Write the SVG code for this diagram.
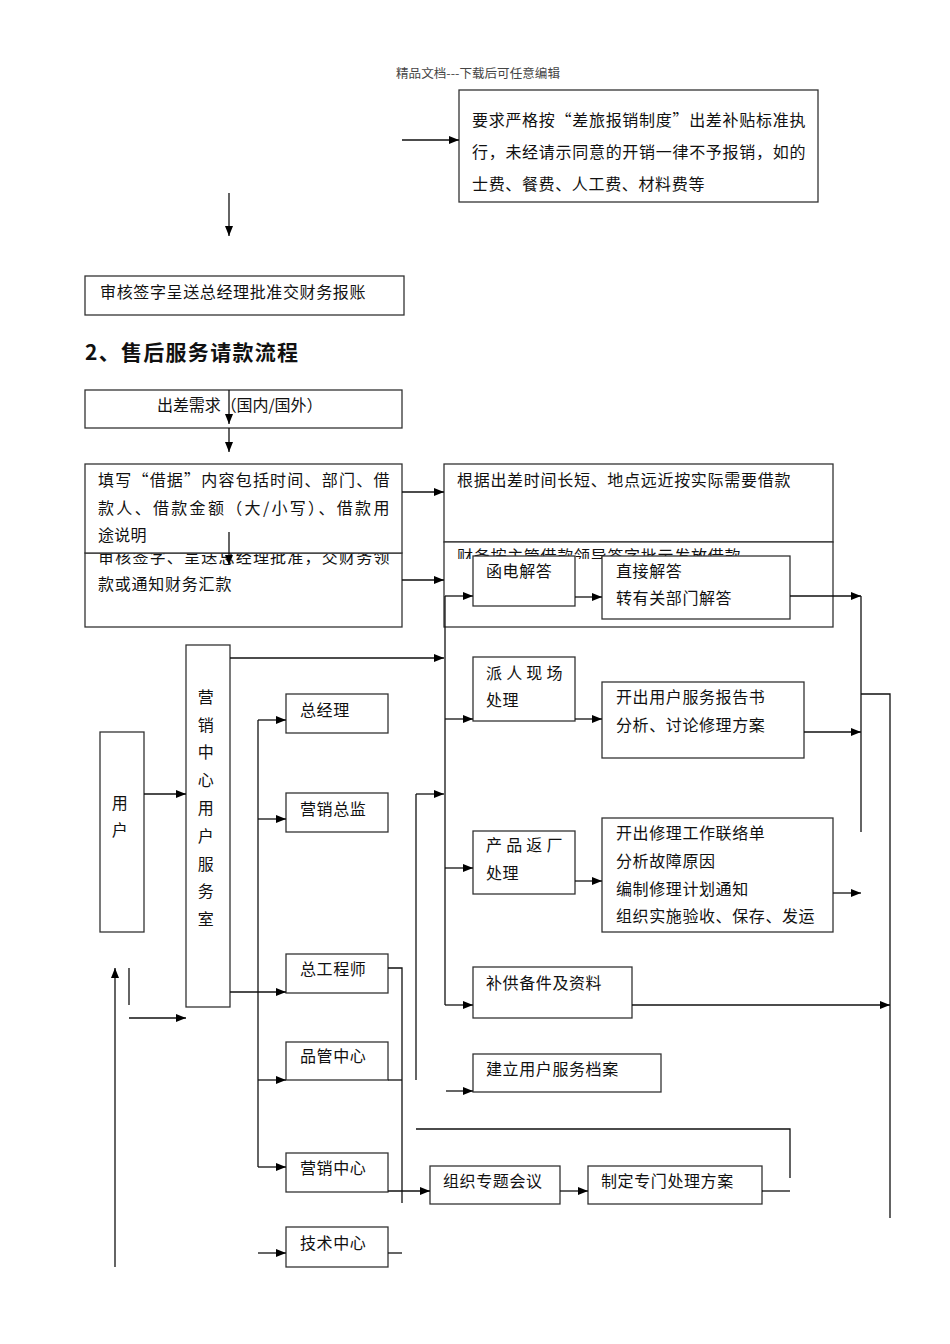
<svg xmlns="http://www.w3.org/2000/svg" width="950" height="1344" viewBox="0 0 950 1344">
<style>
.b{fill:#fff;stroke:#333;stroke-width:1.3}
.t{font-family:"Noto Sans CJK SC","Noto Sans",sans-serif;font-size:16px;fill:#111;letter-spacing:0.6px}
.c{stroke:#111;stroke-width:1.3;fill:none}
.a{marker-end:url(#ah)}
</style>
<defs>
<marker id="ah" viewBox="0 0 10 8" refX="10" refY="4" markerWidth="11" markerHeight="8" orient="auto" markerUnits="userSpaceOnUse"><path d="M0,0 L10,4 L0,8 z" fill="#000"/></marker>
<clipPath id="clipTop"><rect x="80" y="553.5" width="330" height="80"/></clipPath>
<clipPath id="clipBot"><rect x="440" y="540" width="400" height="19"/></clipPath>
</defs>
<rect width="950" height="1344" fill="#fff"/>
<text x="478" y="78" text-anchor="middle" font-family="'Noto Sans CJK SC',sans-serif" font-size="12" fill="#444" textLength="164" lengthAdjust="spacingAndGlyphs">精品文档---下载后可任意编辑</text>

<g id="n-rule">
<rect class="b" x="459" y="90" width="359" height="112"/>
<text class="t" x="472" y="126" textLength="334" lengthAdjust="spacing">要求严格按“差旅报销制度”出差补贴标准执</text>
<text class="t" x="472" y="158" textLength="334" lengthAdjust="spacing">行，未经请示同意的开销一律不予报销，如的</text>
<text class="t" x="472" y="190" textLength="233" lengthAdjust="spacing">士费、餐费、人工费、材料费等</text>
</g>
<g id="n-audit1">
<rect class="b" x="85" y="276" width="319" height="39"/>
<text class="t" x="100" y="298" textLength="266" lengthAdjust="spacing">审核签字呈送总经理批准交财务报账</text>
</g>
<text id="heading" x="85" y="360" font-family="'Noto Sans CJK SC',sans-serif" font-size="21" font-weight="bold" fill="#111" textLength="213" lengthAdjust="spacing">2、售后服务请款流程</text>

<g id="n-demand">
<rect class="b" x="85" y="390" width="317" height="38"/>
<text class="t" x="157" y="411" textLength="166" lengthAdjust="spacing">出差需求（国内/国外）</text>
</g>
<g id="n-approve">
<rect class="b" x="85" y="553" width="317" height="74"/>
<g clip-path="url(#clipTop)"><text class="t" x="98" y="563" textLength="292" lengthAdjust="spacing">审核签字、呈送总经理批准，交财务领</text></g>
<text class="t" x="98" y="590" textLength="134" lengthAdjust="spacing">款或通知财务汇款</text>
</g>
<g id="n-loan">
<rect class="b" x="85" y="464" width="317" height="89"/>
<text class="t" x="98" y="486" textLength="292" lengthAdjust="spacing">填写“借据”内容包括时间、部门、借</text>
<text class="t" x="98" y="514" textLength="292" lengthAdjust="spacing">款人、借款金额（大/小写）、借款用</text>
<text class="t" x="98" y="541" textLength="49" lengthAdjust="spacing">途说明</text>
</g>
<g id="n-amount">
<rect class="b" x="444" y="464" width="389" height="78"/>
<text class="t" x="457" y="486" textLength="334" lengthAdjust="spacing">根据出差时间长短、地点远近按实际需要借款</text>
</g>
<g id="n-finance">
<rect class="b" x="444" y="542" width="389" height="85"/>
<g clip-path="url(#clipBot)"><text class="t" x="457" y="562" textLength="284" lengthAdjust="spacing">财务按主管借款领导签字批示发放借款</text></g>
</g>
<g id="n-letter">
<rect class="b" x="473" y="556" width="102" height="50"/>
<text class="t" x="486" y="577">函电解答</text>
</g>
<g id="n-direct">
<rect class="b" x="602" y="556" width="188" height="63"/>
<text class="t" x="616" y="577">直接解答</text>
<text class="t" x="616" y="604">转有关部门解答</text>
</g>
<g id="n-onsite">
<rect class="b" x="473" y="657" width="102" height="64"/>
<text class="t" x="486" y="679" textLength="77" lengthAdjust="spacing">派 人 现 场</text>
<text class="t" x="486" y="706">处理</text>
</g>
<g id="n-report">
<rect class="b" x="602" y="682" width="202" height="76"/>
<text class="t" x="616" y="703">开出用户服务报告书</text>
<text class="t" x="616" y="731">分析、讨论修理方案</text>
</g>
<g id="n-return">
<rect class="b" x="473" y="831" width="102" height="63"/>
<text class="t" x="486" y="851" textLength="77" lengthAdjust="spacing">产 品 返 厂</text>
<text class="t" x="486" y="879">处理</text>
</g>
<g id="n-repair">
<rect class="b" x="602" y="818" width="231" height="114"/>
<text class="t" x="616" y="839">开出修理工作联络单</text>
<text class="t" x="616" y="867">分析故障原因</text>
<text class="t" x="616" y="895">编制修理计划通知</text>
<text class="t" x="616" y="922">组织实施验收、保存、发运</text>
</g>
<g id="n-parts">
<rect class="b" x="473" y="967" width="159" height="51"/>
<text class="t" x="486" y="989">补供备件及资料</text>
</g>
<g id="n-archive">
<rect class="b" x="473" y="1054" width="188" height="38"/>
<text class="t" x="486" y="1075">建立用户服务档案</text>
</g>
<g id="n-meeting">
<rect class="b" x="430" y="1166" width="130" height="38"/>
<text class="t" x="443" y="1187">组织专题会议</text>
</g>
<g id="n-plan">
<rect class="b" x="588" y="1166" width="174" height="38"/>
<text class="t" x="601" y="1187">制定专门处理方案</text>
</g>
<g id="n-user">
<rect class="b" x="100" y="732" width="44" height="200"/>
<text class="t" x="120" y="809" text-anchor="middle">用</text>
<text class="t" x="120" y="836" text-anchor="middle">户</text>
</g>
<g id="n-service">
<rect class="b" x="186" y="645" width="44" height="362"/>
<g class="t" text-anchor="middle">
<text x="206" y="703">营</text>
<text x="206" y="731">销</text>
<text x="206" y="758">中</text>
<text x="206" y="786">心</text>
<text x="206" y="814">用</text>
<text x="206" y="842">户</text>
<text x="206" y="870">服</text>
<text x="206" y="897">务</text>
<text x="206" y="925">室</text>
</g>
</g>
<g id="n-gm">
<rect class="b" x="286" y="694" width="102" height="39"/>
<text class="t" x="300" y="716">总经理</text>
</g>
<g id="n-director">
<rect class="b" x="286" y="793" width="102" height="39"/>
<text class="t" x="300" y="815">营销总监</text>
</g>
<g id="n-chief">
<rect class="b" x="286" y="954" width="102" height="39"/>
<text class="t" x="300" y="975">总工程师</text>
</g>
<g id="n-qc">
<rect class="b" x="286" y="1042" width="102" height="38"/>
<text class="t" x="300" y="1062">品管中心</text>
</g>
<g id="n-mkt">
<rect class="b" x="286" y="1153" width="102" height="39"/>
<text class="t" x="300" y="1174">营销中心</text>
</g>
<g id="n-tech">
<rect class="b" x="286" y="1227" width="102" height="40"/>
<text class="t" x="300" y="1249">技术中心</text>
</g>

<g id="connectors">
<path class="c a" d="M402,140 H459"/>
<path class="c a" d="M229,193 V236"/>
<path class="c a" d="M229,390 V424"/>
<path class="c a" d="M229,428 V452"/>
<path class="c a" d="M229,532 V565"/>
<path class="c a" d="M402,492 H444"/>
<path class="c a" d="M402,580 H444"/>
<path class="c" d="M445,596 V1005"/>
<path class="c a" d="M445,596 H473"/>
<path class="c a" d="M575,597 H602"/>
<path class="c a" d="M790,596 H861"/>
<path class="c a" d="M230,658 H444"/>
<path class="c a" d="M445,719 H473"/>
<path class="c a" d="M575,719 H602"/>
<path class="c a" d="M804,732 H861"/>
<path class="c" d="M416,1080 V794"/>
<path class="c a" d="M416,794 H444"/>
<path class="c a" d="M445,868 H473"/>
<path class="c a" d="M575,881 H602"/>
<path class="c a" d="M833,893 H861"/>
<path class="c" d="M861,596 V832"/>
<path class="c" d="M861,694 H890 V1218"/>
<path class="c a" d="M632,1005 H890"/>
<path class="c a" d="M445,1005 H473"/>
<path class="c a" d="M446,1091 H473"/>
<path class="c" d="M416,1129 H790 V1178"/>
<path class="c" d="M762,1191 H790"/>
<path class="c a" d="M560,1191 H588"/>
<path class="c a" d="M388,1191 H430"/>
<path class="c a" d="M144,794 H186"/>
<path class="c a" d="M115,1267 V968"/>
<path class="c" d="M129,968 V1005"/>
<path class="c a" d="M129,1018 H186"/>
<path class="c" d="M258,720 V1167"/>
<path class="c a" d="M258,720 H286"/>
<path class="c a" d="M258,819 H286"/>
<path class="c a" d="M258,1080 H286"/>
<path class="c a" d="M258,1167 H286"/>
<path class="c a" d="M230,992 H286"/>
<path class="c a" d="M258,1253 H286"/>
<path class="c" d="M388,968 H402 V1203"/>
<path class="c" d="M388,1080 H402"/>
<path class="c" d="M388,1253 H402"/>
</g>
</svg>
